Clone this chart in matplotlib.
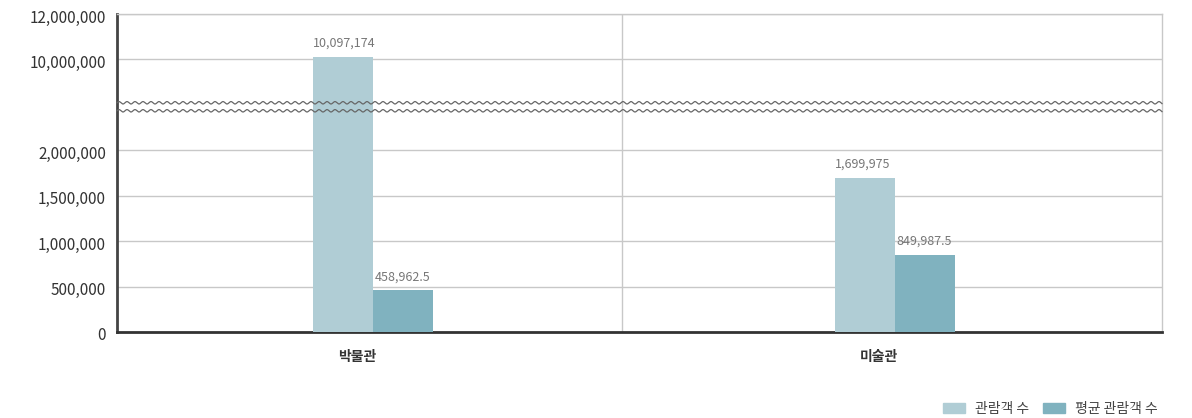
import numpy as np
import matplotlib
matplotlib.use("Agg")
import matplotlib.pyplot as plt
import matplotlib.transforms as mtransforms
from matplotlib.patches import Patch

plt.rcParams['font.family'] = ['Noto Sans CJK KR', 'DejaVu Sans']

categories = ['박물관', '미술관']
series_names = ['관람객 수', '평균 관람객 수']
visitors = [10097174, 1699975]
avg_visitors = [458962.5, 849987.5]
value_labels_1 = ['10,097,174', '1,699,975']
value_labels_2 = ['458,962.5', '849,987.5']
y_ticks = [0, 500000, 1000000, 1500000, 2000000, 10000000, 12000000]
y_tick_labels = ['0', '500,000', '1,000,000', '1,500,000', '2,000,000', '10,000,000', '12,000,000']

c_light = '#b0cdd5'
c_dark = '#80b2bf'

# broken-axis scale: knots (value -> scale units)
vk = np.array([-1e9, 0, 2.434e6, 8.06e6, 12e6, 1e10])
sk = np.array([-1e9 * 90.8e-6, 0, 221.0, 229.0, 317.7, 317.7 + (1e10 - 12e6) * 22.5e-6])

def fwd(v):
    return np.interp(v, vk, sk)

def inv(s):
    return np.interp(s, sk, vk)

fig = plt.figure(figsize=(11.92, 4.18), dpi=100)
ax = fig.add_axes([117 / 1192, 1 - 332 / 418, (1162 - 117) / 1192, (332 - 14) / 418])
ax.set_yscale('function', functions=(fwd, inv))
ax.set_ylim(0, 12e6)
ax.set_xlim(-0.49, 1.511)

x = np.arange(len(categories))
w = 0.115
ax.bar(x - w / 2, visitors, width=w, color=c_light, zorder=3)
ax.bar(x + w / 2, avg_visitors, width=w, color=c_dark, zorder=3)

for xi, v, lab in zip(x, visitors, value_labels_1):
    ax.annotate(lab, (xi - w, v), xytext=(0, 5), textcoords='offset points',
                ha='left', va='bottom', fontsize=9, color='#777777', zorder=5)
for xi, v, lab in zip(x, avg_visitors, value_labels_2):
    ax.annotate(lab, (xi, v), xytext=(1, 5), textcoords='offset points',
                ha='left', va='bottom', fontsize=9, color='#777777', zorder=5)

ax.set_yticks(y_ticks)
ax.set_yticklabels(y_tick_labels, fontsize=11, color='#333333')
ax.yaxis.set_minor_locator(matplotlib.ticker.NullLocator())
ax.tick_params(axis='y', length=0, pad=8)
for lbl in ax.get_yticklabels():
    lbl.set_transform(lbl.get_transform() + mtransforms.ScaledTranslation(0, -2 / 100, fig.dpi_scale_trans))
ax.set_xticks(x)
ax.set_xticklabels(categories, fontsize=10, fontweight='bold', color='#333333')
ax.tick_params(axis='x', length=0, pad=13)
offset = mtransforms.ScaledTranslation(-16 / 100, 0, fig.dpi_scale_trans)
for lbl in ax.get_xticklabels():
    lbl.set_transform(lbl.get_transform() + offset)

ax.grid(axis='y', color='#c8c8c8', lw=1, zorder=0)
ax.axvline(0.477, color='#c8c8c8', lw=1, zorder=1)

for s in ['top', 'right']:
    ax.spines[s].set_color('#c8c8c8')
    ax.spines[s].set_linewidth(1)
ax.spines['left'].set_color('#444444')
ax.spines['left'].set_linewidth(2)
ax.spines['bottom'].set_color('#333333')
ax.spines['bottom'].set_linewidth(2)

# wavy break marks
xs = np.linspace(0, 1, 3000)
amp = 1.2 / 318
per = 8.0 / 1045
for yc in [221.0 / 317.7, 229.0 / 317.7]:
    ax.plot(xs, yc + amp * np.sin(2 * np.pi * xs / per), transform=ax.transAxes,
            color='#666666', lw=0.9, zorder=6, clip_on=False)

handles = [Patch(color=c_light), Patch(color=c_dark)]
fig.legend(handles, series_names, loc='lower right', bbox_to_anchor=(1170 / 1192, -0.025),
           ncol=2, frameon=False, fontsize=10, handlelength=1.6, handleheight=0.7,
           columnspacing=1.0, handletextpad=0.7, labelcolor='#444444')

fig.savefig('out.png', dpi=100)
